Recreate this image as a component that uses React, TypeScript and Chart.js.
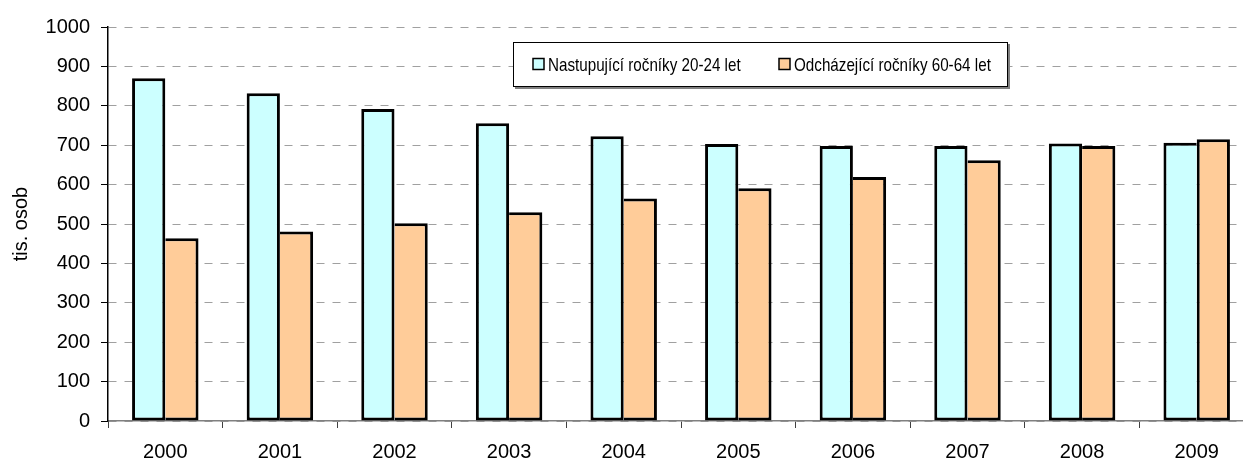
import { useEffect, useRef } from 'react';
import { Chart, registerables } from 'chart.js';

Chart.register(...registerables);

const FONT = "'Liberation Sans', Arial, sans-serif";

const years = ['2000', '2001', '2002', '2003', '2004', '2005', '2006', '2007', '2008', '2009'];
const nastupujici = [870, 832, 792, 756, 723, 703, 698, 698, 704, 706];
const odchazejici = [464, 481, 502, 530, 565, 591, 619, 662, 698, 715];
const seriesLabels = ['Nastupující ročníky 20-24 let', 'Odcházející ročníky 60-64 let'];
const seriesColors = ['#CCFFFF', '#FFCC99'];
const yTitle = 'tis. osob';

const boxLegend = {
  id: 'boxLegend',
  afterDatasetsDraw(chart: any, _args: any, opts: any) {
    const { ctx, chartArea } = chart;
    const x = chartArea.left + opts.x;
    const y = chartArea.top + opts.y;
    const w = opts.w;
    const h = opts.h;
    ctx.save();
    ctx.fillStyle = '#808080';
    ctx.fillRect(x + 2, y + 2, w, h);
    ctx.fillStyle = '#ffffff';
    ctx.fillRect(x, y, w, h);
    ctx.strokeStyle = '#000';
    ctx.lineWidth = 1;
    ctx.strokeRect(x + 0.5, y + 0.5, w - 1, h - 1);
    const cy = y + h / 2;
    chart.data.datasets.forEach((ds: any, i: number) => {
      const mx = x + opts.itemX[i];
      ctx.fillStyle = ds.backgroundColor;
      ctx.fillRect(mx, cy - 6, 11, 11);
      ctx.strokeStyle = '#000';
      ctx.lineWidth = 1.5;
      ctx.strokeRect(mx, cy - 6, 11, 11);
      ctx.save();
      ctx.translate(mx + 15, cy + 1);
      ctx.scale(0.8, 1);
      ctx.fillStyle = '#000';
      ctx.font = `19px ${FONT}`;
      ctx.textBaseline = 'middle';
      ctx.textAlign = 'left';
      ctx.fillText(ds.label, 0, 0);
      ctx.restore();
    });
    ctx.restore();
  },
};

export default function App() {
  const ref = useRef<HTMLCanvasElement>(null);

  useEffect(() => {
    if (!ref.current) return;
    const chart = new Chart(ref.current, {
      type: 'bar',
      data: {
        labels: years,
        datasets: [
          {
            label: seriesLabels[0],
            data: nastupujici,
            backgroundColor: seriesColors[0],
            borderColor: '#000',
            borderSkipped: false,
            borderWidth: (c: any) => {
              const i = c.dataIndex;
              return { top: 3, left: 3, bottom: 3, right: nastupujici[i] < odchazejici[i] ? 0 : 3 };
            },
            categoryPercentage: 0.58,
            barPercentage: 1.0,
          } as any,
          {
            label: seriesLabels[1],
            data: odchazejici,
            backgroundColor: seriesColors[1],
            borderColor: '#000',
            borderSkipped: false,
            borderWidth: (c: any) => {
              const i = c.dataIndex;
              return { top: 3, right: 3, bottom: 3, left: odchazejici[i] <= nastupujici[i] ? 0 : 3 };
            },
            categoryPercentage: 0.58,
            barPercentage: 1.0,
          } as any,
        ],
      },
      options: {
        responsive: false,
        animation: false,
        devicePixelRatio: 1,
        layout: { padding: { left: 0, top: 27, right: 2, bottom: 0 } },
        plugins: {
          legend: { display: false },
          tooltip: { enabled: false },
          boxLegend: { x: 405, y: 15, w: 495, h: 45, itemX: [20, 266] },
        } as any,
        scales: {
          x: {
            grid: {
              display: true,
              drawOnChartArea: false,
              drawTicks: true,
              tickLength: 7,
              tickColor: '#404040',
              offset: true,
            },
            border: { display: true, color: '#808080', width: 1.5 },
            ticks: {
              color: '#000',
              font: { family: FONT, size: 20 },
              padding: 12,
              maxRotation: 0,
            },
            afterFit: (s: any) => {
              s.height = 40;
            },
          },
          y: {
            min: 0,
            max: 1000,
            grid: {
              color: '#a0a0a0',
              lineWidth: 1,
              drawTicks: true,
              tickLength: 7,
              tickColor: '#000',
            },
            border: { display: true, color: '#000', width: 1.5, dash: [8, 8] },
            ticks: {
              stepSize: 100,
              color: '#000',
              font: { family: FONT, size: 20 },
              padding: 11,
              callback: (v: any) => String(v),
            },
            title: {
              display: true,
              text: yTitle,
              color: '#000',
              font: { family: FONT, size: 20 },
              padding: { top: 9, bottom: 0 },
            },
            afterFit: (s: any) => {
              s.width = 108;
            },
          },
        },
      } as any,
      plugins: [boxLegend],
    });
    return () => chart.destroy();
  }, []);

  return (
    <div
      style={{
        position: 'fixed',
        left: 0,
        top: 0,
        width: 1243,
        height: 461,
        overflow: 'hidden',
        background: '#fff',
      }}
    >
      <canvas ref={ref} width={1256} height={461} style={{ width: 1256, height: 461, display: 'block' }} />
    </div>
  );
}
